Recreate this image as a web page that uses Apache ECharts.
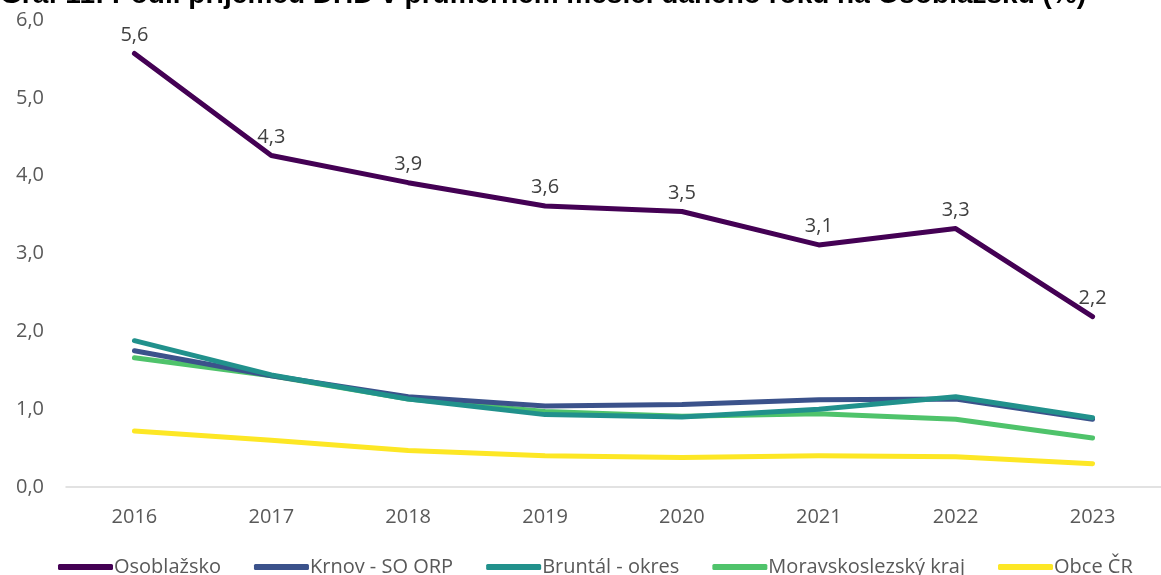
<!DOCTYPE html>
<html><head><meta charset="utf-8">
<script src="https://cdn.jsdelivr.net/npm/echarts@6/dist/echarts.min.js"></script>
<style>html,body{margin:0;padding:0;background:#fff}#c{width:1161px;height:575px}</style>
</head><body><div id="c"></div>
<script>
const titleText = 'Graf 11: Podíl příjemců DHD v průměrném měsíci daného roku na Osoblažsku (%)';
const years = ['2016','2017','2018','2019','2020','2021','2022','2023'];
const osoblazsko = [5.57, 4.26, 3.91, 3.61, 3.54, 3.11, 3.32, 2.19];
const krnov      = [1.75, 1.43, 1.16, 1.04, 1.06, 1.12, 1.13, 0.87];
const bruntal    = [1.88, 1.44, 1.13, 0.93, 0.90, 1.00, 1.16, 0.89];
const msKraj     = [1.66, 1.43, 1.13, 0.97, 0.91, 0.94, 0.87, 0.63];
const obceCR     = [0.72, 0.60, 0.47, 0.40, 0.38, 0.40, 0.39, 0.30];
const names = ['Osoblažsko','Krnov - SO ORP','Bruntál - okres','Moravskoslezský kraj','Obce ČR'];
const colors = ['#440154','#3b528b','#21918c','#4fc36b','#fde725'];

const font = 'Open Sans';
const chart = echarts.init(document.getElementById('c'), null, {renderer:'canvas'});
const seriesData = [osoblazsko, krnov, bruntal, msKraj, obceCR];
const fmt = v => v.toFixed(1).replace('.', ',');
chart.setOption({
  animation:false,
  title:{text:titleText,left:0,top:-19,padding:0,textStyle:{fontFamily:'Liberation Sans',fontWeight:'bold',fontSize:28,color:'#000'}},
  grid:{left:66,right:-2,top:20,bottom:88,containLabel:false},
  legend:{bottom:-2,left:58,itemWidth:55,itemHeight:6,itemGap:33,icon:'roundRect',padding:0,
    textStyle:{fontFamily:font,fontSize:20,color:'#595959',padding:[0,0,0,-4]},
    data:names.map((n,i)=>({name:n,itemStyle:{color:colors[i],opacity:1}}))},
  xAxis:{type:'category',data:years,boundaryGap:true,
    axisLine:{lineStyle:{color:'#d9d9d9',width:1.5}},axisTick:{show:false},
    axisLabel:{fontFamily:font,fontSize:20,color:'#595959',margin:20}},
  yAxis:{type:'value',min:0,max:6,interval:1,
    axisLine:{show:false},axisTick:{show:false},splitLine:{show:false},
    axisLabel:{fontFamily:font,fontSize:20,color:'#595959',margin:22,formatter:v=>fmt(v)}},
  series: seriesData.map((d,i)=>({
    name:names[i],type:'line',data:d,symbol:'circle',symbolSize:1,showSymbol:true,
    lineStyle:{width:5,color:colors[i],cap:'round',join:'round'},
    itemStyle:{color:colors[i],opacity:0},
    z: 10 - i + (i===2?1:0),
    label:{show:i===0,position:'top',distance:8,fontFamily:font,fontSize:20,color:'#404040',opacity:1,formatter:p=>fmt(p.value)}
  }))
});
</script></body></html>
